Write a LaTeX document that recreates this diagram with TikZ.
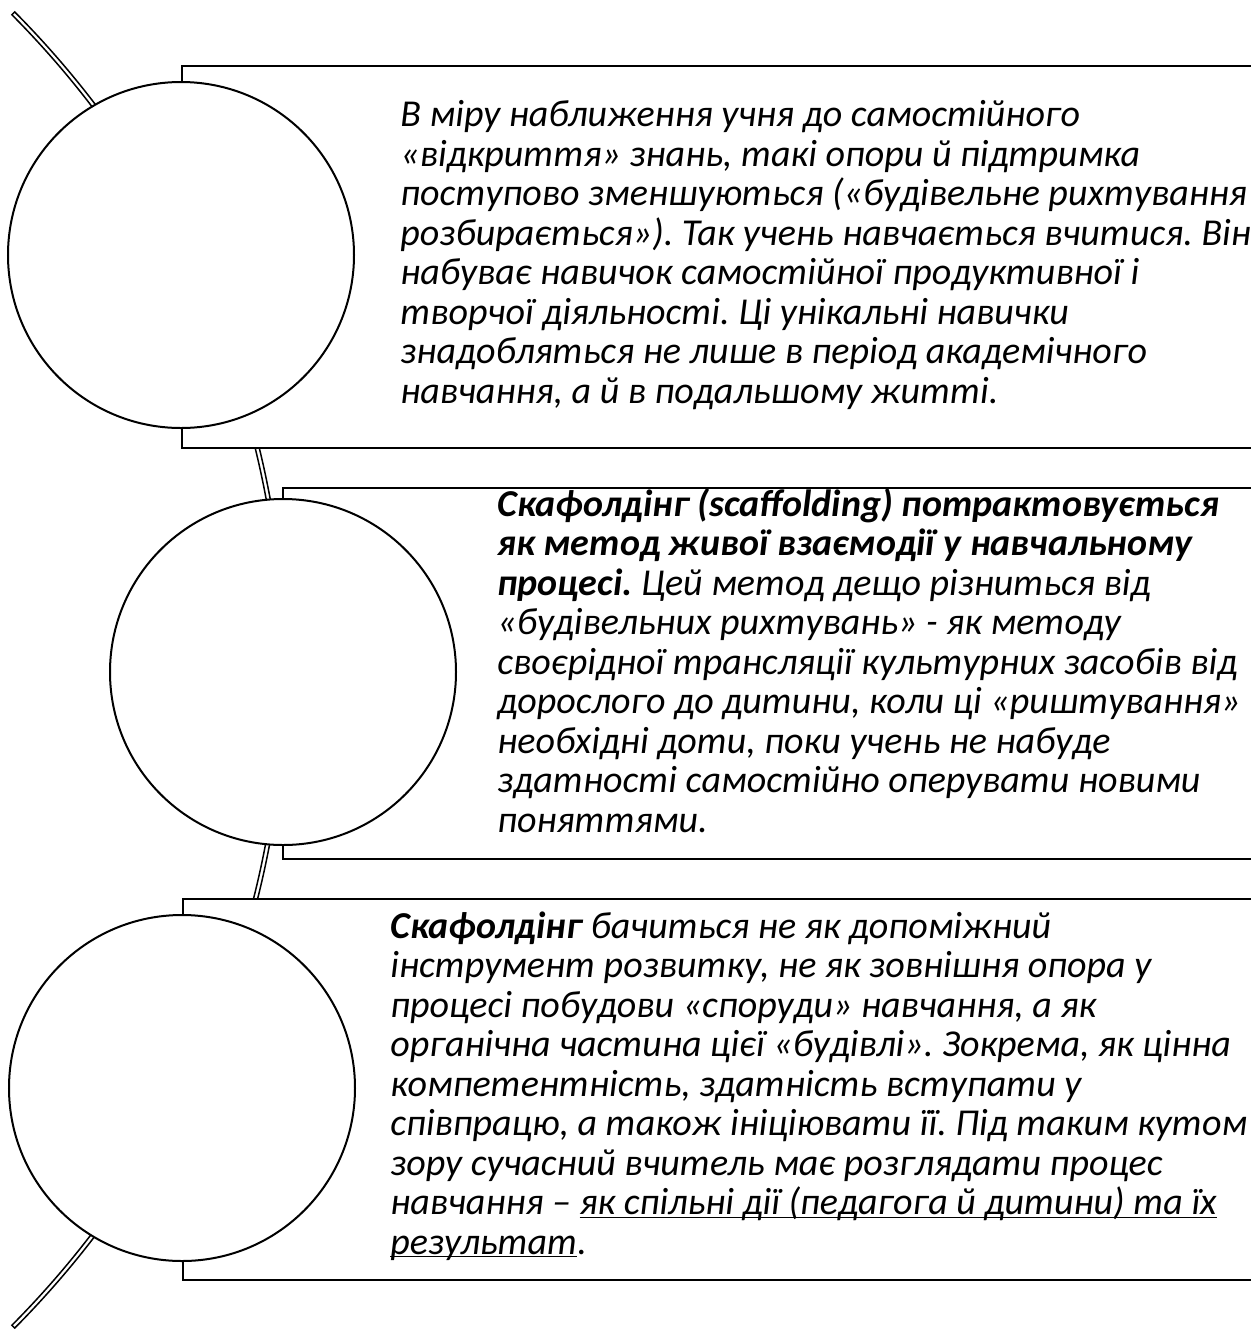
\documentclass[tikz,border=0pt]{standalone}
\usepackage{fontspec}
\setmainfont{Carlito}
\usetikzlibrary{positioning}
\newcommand{\lowline}[1]{\underline{\smash{#1}}}

\begin{document}
\begin{tikzpicture}[x=0.5pt, y=-0.5pt,
        panel/.style={rectangle, draw, line width=1pt, fill=white, anchor=north west, inner sep=0pt, minimum width=560pt},
        disc/.style={circle, draw, line width=1pt, fill=white, minimum size=173pt, inner sep=0pt},
        txt/.style={anchor=base west, align=left, inner sep=0pt, font=\fontsize{19}{19.75}\selectfont\itshape\frenchspacing},
        spine/.style={draw, line width=0.75pt, fill=white}]
    \clip (0,0) rectangle (1251,1329);

    % spine behind everything
    \coordinate (hub) at (-648,670);
    \path[spine] (hub) ++(-44.8:934) arc (-44.8:44.8:934) -- ++(224.8:4) arc (44.8:-44.8:930) -- cycle;

    % panels
    \node[panel, minimum height=191pt] (r1) at (181,65) {};
    \node[panel, minimum height=185.5pt] (r2) at (282,487) {};
    \node[panel, minimum height=190.5pt] (r3) at (182,898) {};

    % circles
    \node[disc] (c1) at (181,255) {};
    \node[disc] (c2) at (283,672) {};
    \node[disc] (c3) at (182,1088) {};

    % texts (placed at the baseline of their last line)
    \node[txt] (t1) at (400,403) {В міру наближення учня до самостійного\\
        «відкриття» знань, такі опори й підтримка\\
        поступово зменшуються («будівельне рихтування\\
        розбирається»). Так учень навчається вчитися. Він\\
        набуває навичок самостійної продуктивної і\\
        творчої діяльності. Ці унікальні навички\\
        знадобляться не лише в період академічного\\
        навчання, а й в подальшому житті.};
    \node[txt] (t2) at (497,832) {\textbf{Скафолдінг (scaffolding) потрактовується}\\
        \textbf{як метод живої взаємодії у навчальному}\\
        \textbf{процесі.} Цей метод дещо різниться від\\
        «будівельних рихтувань» - як методу\\
        своєрідної трансляції культурних засобів від\\
        дорослого до дитини, коли ці «риштування»\\
        необхідні доти, поки учень не набуде\\
        здатності самостійно оперувати новими\\
        поняттями.};
    \node[txt] (t3) at (390,1254) {\textbf{Скафолдінг} бачиться не як допоміжний\\
        інструмент розвитку, не як зовнішня опора у\\
        процесі побудови «споруди» навчання, а як\\
        органічна частина цієї «будівлі». Зокрема, як цінна\\
        компетентність, здатність вступати у\\
        співпрацю, а також ініціювати її. Під таким кутом\\
        зору сучасний вчитель має розглядати процес\\
        навчання – \lowline{як спільні дії (педагога й дитини) та їх}\\
        \lowline{результат}.};
\end{tikzpicture}
\end{document}
